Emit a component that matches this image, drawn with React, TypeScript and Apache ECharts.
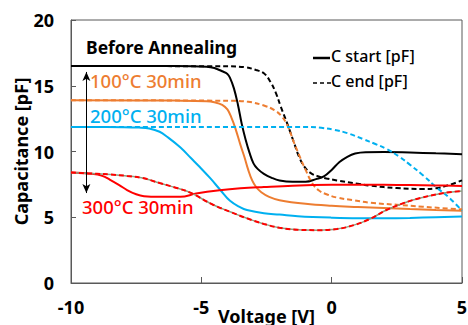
import React, { useEffect, useRef } from "react";
import * as echarts from "echarts";

// Voltage [V], Capacitance [pF] pairs
const startBefore: number[][] = [
  [-10, 16.5], [-6, 16.5], [-4.8, 16.45], [-4.5, 16.35], [-4.2, 16.1], [-4.0, 15.9], [-3.9, 15.6],
  [-3.75, 14.8], [-3.6, 13.6], [-3.45, 12.1], [-3.3, 10.9], [-3.15, 9.9], [-3.0, 9.1], [-2.85, 8.7],
  [-2.6, 8.3], [-2.3, 8.0], [-2.0, 7.8], [-1.5, 7.7], [-1.0, 7.7], [-0.6, 7.9], [-0.3, 8.1],
  [0.0, 8.6], [0.3, 9.2], [0.6, 9.6], [0.9, 9.85], [1.3, 9.95], [2, 9.96], [3, 9.92], [4, 9.86], [5, 9.8],
];
const endBefore: number[][] = [
  [-10, 16.5], [-4, 16.48], [-3.3, 16.4], [-2.9, 16.2], [-2.6, 15.95], [-2.35, 15.3], [-2.15, 14.5],
  [-1.95, 13.4], [-1.7, 12.1], [-1.45, 10.7], [-1.25, 9.6], [-1.05, 8.85], [-0.8, 8.35], [-0.5, 8.1],
  [-0.2, 7.95], [0.2, 7.8], [1.0, 7.55], [1.5, 7.4], [2.5, 7.22], [3.5, 7.15], [4.0, 7.2], [4.5, 7.45], [5, 7.8],
];
const start100: number[][] = [
  [-10, 13.9], [-6, 13.87], [-4.8, 13.83], [-4.5, 13.75], [-4.2, 13.55], [-4.0, 13.2], [-3.85, 12.6],
  [-3.7, 11.8], [-3.5, 10.5], [-3.35, 9.6], [-3.2, 8.6], [-3.05, 7.8], [-2.9, 7.3], [-2.7, 6.9],
  [-2.4, 6.55], [-2.0, 6.3], [-1.0, 6.02], [0, 5.87], [1, 5.78], [2, 5.7], [3, 5.62], [4, 5.55], [5, 5.5],
];
const end100: number[][] = [
  [-10, 13.9], [-4, 13.86], [-3.2, 13.78], [-2.6, 13.5], [-2.2, 13.15], [-1.95, 12.75], [-1.7, 12.0],
  [-1.45, 10.7], [-1.2, 9.5], [-1.0, 8.6], [-0.75, 7.6], [-0.5, 7.05], [-0.2, 6.75], [0.2, 6.5],
  [0.8, 6.3], [1.5, 6.1], [2.5, 5.95], [3.5, 5.8], [4.2, 5.7], [5, 5.6],
];
const start200: number[][] = [
  [-10, 11.87], [-8, 11.85], [-7.4, 11.82], [-7.0, 11.75], [-6.6, 11.5], [-6.3, 11.1], [-5.8, 10.3],
  [-5.4, 9.5], [-5.05, 8.8], [-4.65, 7.95], [-4.27, 7.07], [-3.9, 6.25], [-3.5, 5.75], [-3.25, 5.55],
  [-2.6, 5.3], [-2.0, 5.2], [-1.3, 5.08], [0, 4.97], [1, 4.93], [2, 4.93], [3, 4.95], [4, 5.0], [5, 5.05],
];
const end200: number[][] = [
  [-10, 11.87], [-1, 11.86], [-0.4, 11.8], [0.1, 11.65], [0.6, 11.4], [1.2, 10.95], [1.7, 10.55],
  [2.1, 10.2], [2.6, 9.6], [3.0, 9.0], [3.5, 8.2], [4.0, 7.3], [4.5, 6.5], [5, 5.5],
];
const start300: number[][] = [
  [-10, 8.4], [-9.2, 8.3], [-8.8, 8.15], [-8.5, 7.85], [-8.15, 7.45], [-7.85, 7.07], [-7.5, 6.75],
  [-7.2, 6.6], [-6.6, 6.55], [-5.8, 6.55], [-5.2, 6.8], [-4.3, 7.05], [-3.5, 7.2], [-2.6, 7.3],
  [-1.5, 7.4], [0, 7.47], [1, 7.48], [2, 7.47], [3, 7.45], [4, 7.42], [5, 7.38],
];
const end300: number[][] = [
  [-10, 8.4], [-9, 8.3], [-8.5, 8.25], [-7.85, 8.14], [-7.25, 7.98], [-6.6, 7.6], [-5.9, 7.2],
  [-5.4, 6.85], [-4.55, 5.95], [-3.9, 5.42], [-3.25, 4.92], [-2.6, 4.49], [-2.0, 4.2], [-1.3, 4.05],
  [-0.5, 4.02], [0.2, 4.1], [0.85, 4.4], [1.5, 4.9], [2.1, 5.55], [2.75, 6.07], [3.4, 6.46],
  [4.3, 6.84], [5, 7.0],
];

const xTicks = { min: -10, max: 5, interval: 5 };
const yTicks = { min: 0, max: 20, interval: 5 };
const arrowStart = [-9.41, 16.05];
const arrowEnd = [-9.41, 6.84];

const BLACK = "#000000";
const ORANGE = "#ED7D31";
const BLUE = "#00B0F0";
const RED = "#FF0000";
const FONT = "'Noto Sans', sans-serif";

function solid(name: string, data: number[][], color: string, extra: any = {}) {
  return {
    name, type: "line", data, smooth: 0.4, showSymbol: false, symbol: "none",
    lineStyle: { color, width: 2, type: "solid" }, ...extra,
  };
}
function dashed(name: string, data: number[][], color: string) {
  return {
    name, type: "line", data, smooth: 0.4, showSymbol: false, symbol: "none",
    lineStyle: { color, width: 2, type: [5, 3] },
  };
}

export default function App() {
  const ref = useRef<HTMLDivElement>(null);
  useEffect(() => {
    if (!ref.current) return;
    const chart = echarts.init(ref.current, null, { renderer: "svg" });
    chart.setOption({
      animation: false,
      backgroundColor: "#ffffff",
      grid: {
        left: 71, right: 6, top: 20, bottom: 42, containLabel: false, outerBoundsMode: "none",
        show: true, borderColor: "#595959", borderWidth: 1,
      },
      xAxis: {
        type: "value", ...xTicks,
        name: "Voltage [V]", nameLocation: "middle", nameGap: 24, nameMoveOverlap: false,
        nameTextStyle: { fontSize: 18, fontWeight: "bold", color: "#000", fontFamily: FONT },
        axisLine: { show: true, onZero: false, lineStyle: { color: "#595959", width: 1 } },
        axisTick: { show: true, inside: true, length: 6, lineStyle: { color: "#595959" } },
        axisLabel: { fontSize: 18, fontWeight: "bold", color: "#000", fontFamily: FONT, margin: 15 },
        splitLine: { show: false },
      },
      yAxis: {
        type: "value", ...yTicks,
        name: "Capacitance [pF]", nameLocation: "middle", nameGap: 41, nameMoveOverlap: false,
        nameTextStyle: { fontSize: 18, fontWeight: "bold", color: "#000", fontFamily: FONT },
        axisLine: { show: true, onZero: false, lineStyle: { color: "#595959", width: 1 } },
        axisTick: { show: true, inside: true, length: 5, lineStyle: { color: "#595959" } },
        axisLabel: { fontSize: 18, fontWeight: "bold", color: "#000", fontFamily: FONT, margin: 17 },
        splitLine: { show: false },
      },
      series: [
        solid("C start before", startBefore, BLACK, {
          markLine: {
            silent: true, symbol: ["arrow", "arrow"], symbolSize: [6, 9],
            label: { show: false },
            lineStyle: { color: "#000", width: 1, type: "solid" },
            data: [[{ coord: arrowStart }, { coord: arrowEnd }]],
          },
        }),
        dashed("C end before", endBefore, BLACK),
        solid("C start 100", start100, ORANGE),
        dashed("C end 100", end100, ORANGE),
        solid("C start 200", start200, BLUE),
        dashed("C end 200", end200, BLUE),
        solid("C start 300", start300, RED),
        solid("C end 300 base", end300, "#8E9E7E", { lineStyle: { color: "#8E9E7E", width: 1.5 } }),
        dashed("C end 300", end300, RED),
      ],
      graphic: [
        { type: "text", left: 86, top: 38, style: { text: "Before Annealing", fontSize: 17.5, fontWeight: "bold", fill: "#000", fontFamily: FONT } },
        { type: "text", left: 90, top: 71, style: { text: "100°C 30min", fontSize: 18.5, fill: ORANGE, fontFamily: FONT, fontWeight: 500 } },
        { type: "text", left: 90, top: 106, style: { text: "200°C 30min", fontSize: 18.5, fill: BLUE, fontFamily: FONT, fontWeight: 500 } },
        { type: "text", left: 82, top: 197, style: { text: "300°C 30min", fontSize: 18.5, fill: RED, fontFamily: FONT, fontWeight: 500 } },
        { type: "line", shape: { x1: 313, y1: 58, x2: 330, y2: 58 }, style: { stroke: "#000", lineWidth: 2.5 } },
        { type: "text", left: 331, top: 48, style: { text: "C start [pF]", fontSize: 16, fill: "#000", fontFamily: FONT, fontWeight: 500 } },
        { type: "line", shape: { x1: 313, y1: 83, x2: 331, y2: 83 }, style: { stroke: "#000", lineWidth: 1.5, lineDash: [4, 3] } },
        { type: "text", left: 331, top: 73, style: { text: "C end [pF]", fontSize: 16, fill: "#000", fontFamily: FONT, fontWeight: 500 } },
      ],
    });
    return () => chart.dispose();
  }, []);
  return <div ref={ref} style={{ position: "fixed", left: 0, top: 0, width: 468, height: 325, background: "#fff" }} />;
}
